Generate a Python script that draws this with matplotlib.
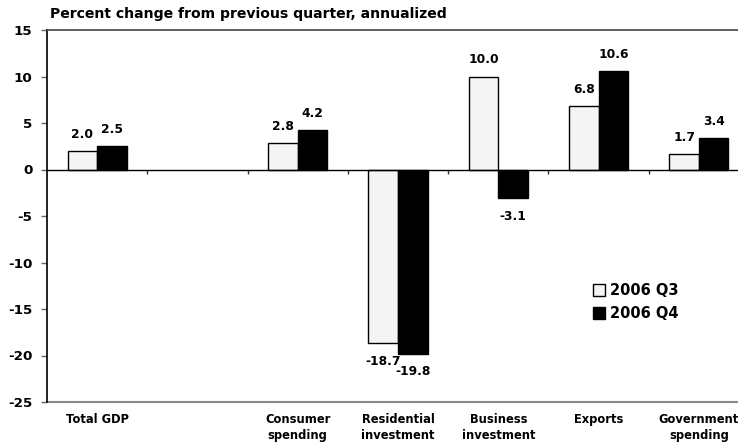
import numpy as np
import matplotlib
matplotlib.use('Agg')
import matplotlib.pyplot as plt
from matplotlib.patches import Patch

plt.rcParams['font.family'] = ['DejaVu Sans']
plt.rcParams['font.weight'] = 'bold'
plt.rcParams['axes.unicode_minus'] = False

# Data
categories = ['Total GDP', '', 'Consumer\nspending', 'Residential\ninvestment',
              'Business\ninvestment', 'Exports', 'Government\nspending']
q3 = [2.0, np.nan, 2.8, -18.7, 10.0, 6.8, 1.7]
q4 = [2.5, np.nan, 4.2, -19.8, -3.1, 10.6, 3.4]
series_names = ['2006 Q3', '2006 Q4']

W, H = 738, 447
fig = plt.figure(figsize=(W / 100, H / 100), dpi=100)
ax = fig.add_axes([47 / W, 1 - 402 / H, 702 / W, 372 / H])

x = np.arange(len(categories))
bw = 0.295
b3 = ax.bar(x - bw / 2, q3, bw, color='#f4f4f4', edgecolor='black', linewidth=1)
b4 = ax.bar(x + bw / 2, q4, bw, color='black', edgecolor='black', linewidth=1)

# value labels
for bars, vals in [(b3, q3), (b4, q4)]:
    for rect, v in zip(bars, vals):
        if np.isnan(v):
            continue
        cx = rect.get_x() + rect.get_width() / 2
        off = 12 if v >= 0 else -13
        ax.annotate(f'{v:.1f}', (cx, v), xytext=(0, off), textcoords='offset points',
                    ha='center', va='center', fontsize=8.8, fontweight='bold')

ax.set_xlim(-0.5, len(categories) - 0.5)
ax.set_ylim(-25, 15)
ax.set_yticks(range(-25, 16, 5))
ax.tick_params(axis='y', direction='out', length=4, width=1, pad=6.5, labelsize=9.7,
               color='#666666')

# x axis sits at zero with ticks between categories
ax.spines['bottom'].set_position(('data', 0))
ax.spines['bottom'].set_linewidth(1)
ax.spines['bottom'].set_color('black')
ax.set_xticks(x[:-1] + 0.5)
ax.set_xticklabels([])
ax.tick_params(axis='x', direction='out', length=3, width=1, color='#333333')

ax.spines['right'].set_visible(False)
ax.spines['top'].set_color('#444444')
ax.spines['top'].set_linewidth(1.2)
ax.spines['left'].set_linewidth(1.2)
ax.axhline(-25, color='#888888', linewidth=1.5, clip_on=False)

for xi, lab in zip(x, categories):
    ax.annotate(lab, (xi, -25), xytext=(0, -8), textcoords='offset points',
                ha='center', va='top', fontsize=8.3, fontweight='bold', linespacing=1.3)

fig.text(50 / W, 1 - 14 / H, 'Percent change from previous quarter, annualized',
         ha='left', va='center', fontsize=10.1, fontweight='bold')

handles = [Patch(facecolor='#f4f4f4', edgecolor='black', linewidth=1),
           Patch(facecolor='black', edgecolor='black')]
fig.legend(handles, series_names, loc='upper left', bbox_to_anchor=(593 / W, 1 - 283 / H),
           frameon=False, prop={'weight': 'bold', 'size': 10.5},
           handlelength=0.8, handleheight=0.8, handletextpad=0.35,
           borderpad=0, borderaxespad=0, labelspacing=0.55)

fig.savefig('out.png', dpi=100)
